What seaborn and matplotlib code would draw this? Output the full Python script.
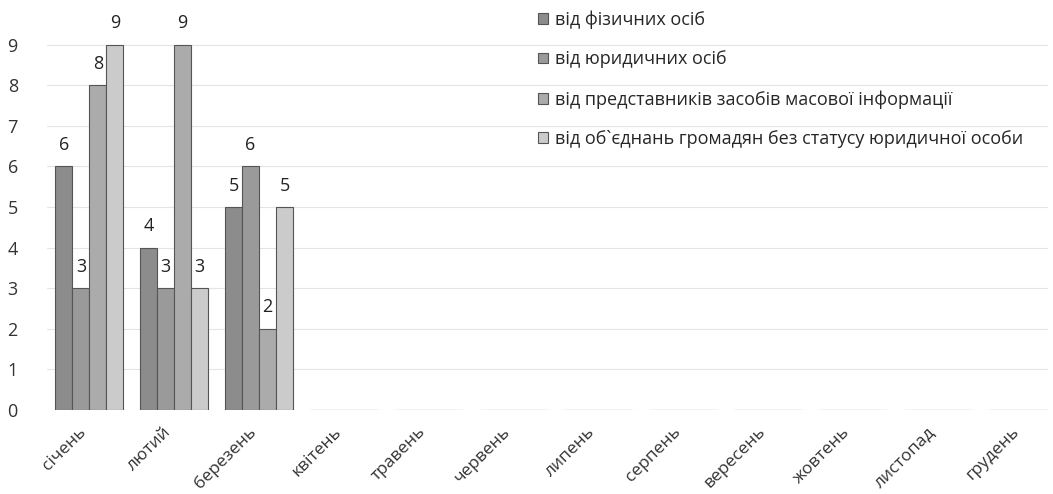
import matplotlib
matplotlib.use("Agg")
import matplotlib.pyplot as plt
import matplotlib.transforms as mtransforms
import seaborn as sns
import pandas as pd

months = ["січень", "лютий", "березень", "квітень", "травень", "червень",
          "липень", "серпень", "вересень", "жовтень", "листопад", "грудень"]
series = ["від фізичних осіб",
          "від юридичних осіб",
          "від представників засобів масової інформації",
          "від об`єднань громадян без статусу юридичної особи"]
fiz = [6, 4, 5, 0, 0, 0, 0, 0, 0, 0, 0, 0]
yur = [3, 3, 6, 0, 0, 0, 0, 0, 0, 0, 0, 0]
zmi = [8, 9, 2, 0, 0, 0, 0, 0, 0, 0, 0, 0]
obj = [9, 3, 5, 0, 0, 0, 0, 0, 0, 0, 0, 0]
yticks = [0, 1, 2, 3, 4, 5, 6, 7, 8, 9]

colors = ["#8c8c8c", "#9a9a9a", "#ababab", "#cbcbcb"]

rows = []
for s, vals in zip(series, [fiz, yur, zmi, obj]):
    for m, v in zip(months, vals):
        rows.append({"month": m, "series": s, "value": v})
df = pd.DataFrame(rows)

sns.set_theme(style="white")
plt.rcParams["font.family"] = ["Open Sans", "DejaVu Sans"]

fig = plt.figure(figsize=(10.53, 4.94), dpi=100)
ax = fig.add_axes([47/1053, (494-410)/494, (1048-47)/1053, (410-4)/494])

sns.barplot(data=df, x="month", y="value", hue="series", order=months,
            hue_order=series, palette=colors, width=0.8, ax=ax,
            edgecolor="#555555", linewidth=0.8, legend=True)

for cont in ax.containers:
    labels = [f"{int(b.get_height())}" if b.get_height() > 0 else "" for b in cont]
    ax.bar_label(cont, labels=labels, padding=9, fontsize=13, color="#222222")

ax.set_ylim(0, 10)
ax.set_xlim(-0.5, 11.3)
ax.set_yticks(yticks)
ax.set_yticklabels([str(t) for t in yticks], fontsize=13, color="#333333")
ax.tick_params(axis="y", length=0, pad=21)
ax.tick_params(axis="x", length=0, pad=10)
offset = mtransforms.ScaledTranslation(-11/100, 0, fig.dpi_scale_trans)
for lbl in ax.get_xticklabels():
    lbl.set_rotation(45)
    lbl.set_ha("right")
    lbl.set_rotation_mode("anchor")
    lbl.set_fontsize(12.5)
    lbl.set_color("#333333")
    lbl.set_transform(lbl.get_transform() + offset)
ax.set_xlabel("")
ax.set_ylabel("")
ax.grid(axis="y", color="#e4e4e4", linewidth=0.8)
ax.set_axisbelow(True)
for sp in ax.spines.values():
    sp.set_visible(False)

handles, labs = ax.get_legend_handles_labels()
ax.legend(handles, labs, loc="upper left", bbox_to_anchor=(531/1053, 1 - 3/494),
          bbox_transform=fig.transFigure, frameon=False, fontsize=13,
          handlelength=0.55, handleheight=0.55, handletextpad=0.4,
          labelspacing=1.2, borderaxespad=0)

fig.savefig("out.png", dpi=100)
